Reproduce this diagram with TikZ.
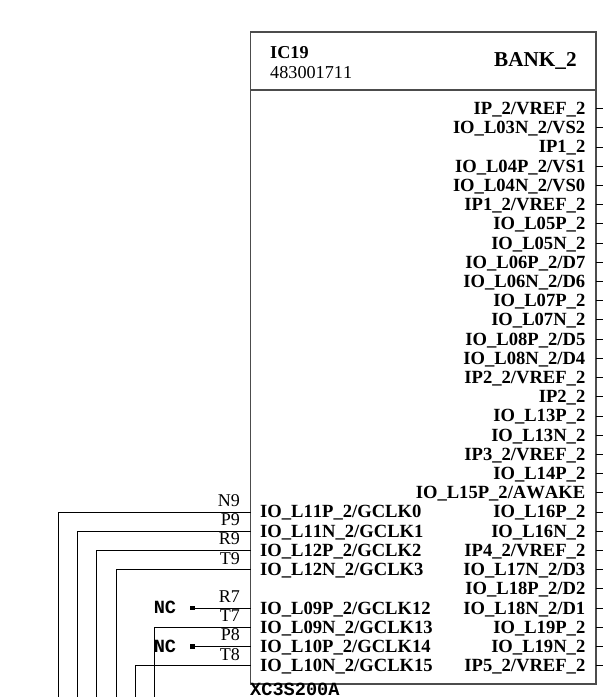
\documentclass[tikz,border=0pt]{standalone}
\usepackage{fontspec}
\setmainfont[Kerning=Off]{Liberation Serif}
\setmonofont{Liberation Mono}
\begin{document}
\begin{tikzpicture}[x=1pt,y=1pt]
  \tikzstyle{BoxStyle}=[draw=black!70,line width=1.1pt]
  \tikzstyle{WireStyle}=[draw=black,line width=0.7pt]
  \tikzstyle{PinName}=[font=\bfseries\fontsize{18.6}{19}\selectfont,inner sep=0pt,anchor=base east]
  \tikzstyle{LeftName}=[font=\bfseries\fontsize{18.6}{19}\selectfont,inner sep=0pt,anchor=base west]
  \tikzstyle{PadName}=[font=\fontsize{18}{19}\selectfont,inner sep=0pt,anchor=base east]
  \tikzstyle{NcName}=[font=\ttfamily\bfseries\fontsize{18.6}{19}\selectfont,inner sep=0pt,anchor=base]
  \tikzstyle{NcDot}=[fill=black,inner sep=0pt,minimum size=4.5pt]
  \useasboundingbox (0,0) rectangle (603,-697);
  % symbol outline
  \coordinate (BoxTL) at (250.5,-32);
  \coordinate (BoxBR) at (596,-684);
  \coordinate (HeadL) at (250.5,-90);
  \coordinate (HeadR) at (596,-90);
  \draw[BoxStyle] (BoxTL) rectangle (BoxBR);
  \draw[BoxStyle] (HeadL) -- (HeadR);
  \node[font=\bfseries\fontsize{18.2}{19}\selectfont,inner sep=0pt,anchor=base west] (RefDes) at (270,-58.3) {IC19};
  \node[font=\fontsize{18.2}{19}\selectfont,inner sep=0pt,anchor=base west] (PartNo) at (270,-78.3) {483001711};
  \node[font=\bfseries\fontsize{21.2}{22}\selectfont,inner sep=0pt,anchor=base west] (Bank) at (494,-66) {BANK\_2};
  \node[font=\ttfamily\bfseries\fontsize{18.6}{19}\selectfont,inner sep=0pt,anchor=base west] (Part) at (250,-695.5) {XC3S200A};
  % right side pins
  \node[PinName] (R01) at (585.5,-114.5) {IP\_2/VREF\_2};
  \node[PinName] (R02) at (585.5,-133.7) {IO\_L03N\_2/VS2};
  \node[PinName] (R03) at (585.5,-152.9) {IP1\_2};
  \node[PinName] (R04) at (585.5,-172.1) {IO\_L04P\_2/VS1};
  \node[PinName] (R05) at (585.5,-191.3) {IO\_L04N\_2/VS0};
  \node[PinName] (R06) at (585.5,-210.5) {IP1\_2/VREF\_2};
  \node[PinName] (R07) at (585.5,-229.8) {IO\_L05P\_2};
  \node[PinName] (R08) at (585.5,-249.0) {IO\_L05N\_2};
  \node[PinName] (R09) at (585.5,-268.2) {IO\_L06P\_2/D7};
  \node[PinName] (R10) at (585.5,-287.4) {IO\_L06N\_2/D6};
  \node[PinName] (R11) at (585.5,-306.6) {IO\_L07P\_2};
  \node[PinName] (R12) at (585.5,-325.8) {IO\_L07N\_2};
  \node[PinName] (R13) at (585.5,-345.0) {IO\_L08P\_2/D5};
  \node[PinName] (R14) at (585.5,-364.2) {IO\_L08N\_2/D4};
  \node[PinName] (R15) at (585.5,-383.4) {IP2\_2/VREF\_2};
  \node[PinName] (R16) at (585.5,-402.7) {IP2\_2};
  \node[PinName] (R17) at (585.5,-421.9) {IO\_L13P\_2};
  \node[PinName] (R18) at (585.5,-441.1) {IO\_L13N\_2};
  \node[PinName] (R19) at (585.5,-460.3) {IP3\_2/VREF\_2};
  \node[PinName] (R20) at (585.5,-479.5) {IO\_L14P\_2};
  \node[PinName] (R21) at (585.5,-498.7) {IO\_L15P\_2/AWAKE};
  \node[PinName] (R22) at (585.5,-517.9) {IO\_L16P\_2};
  \node[PinName] (R23) at (585.5,-537.1) {IO\_L16N\_2};
  \node[PinName] (R24) at (585.5,-556.3) {IP4\_2/VREF\_2};
  \node[PinName] (R25) at (585.5,-575.6) {IO\_L17N\_2/D3};
  \node[PinName] (R26) at (585.5,-594.8) {IO\_L18P\_2/D2};
  \node[PinName] (R27) at (585.5,-614.0) {IO\_L18N\_2/D1};
  \node[PinName] (R28) at (585.5,-633.2) {IO\_L19P\_2};
  \node[PinName] (R29) at (585.5,-652.4) {IO\_L19N\_2};
  \node[PinName] (R30) at (585.5,-671.6) {IP5\_2/VREF\_2};
  % right side stubs
  \draw[WireStyle] (596,-108.5) -- (603,-108.5);
  \draw[WireStyle] (596,-127.7) -- (603,-127.7);
  \draw[WireStyle] (596,-146.9) -- (603,-146.9);
  \draw[WireStyle] (596,-166.1) -- (603,-166.1);
  \draw[WireStyle] (596,-185.3) -- (603,-185.3);
  \draw[WireStyle] (596,-204.5) -- (603,-204.5);
  \draw[WireStyle] (596,-223.8) -- (603,-223.8);
  \draw[WireStyle] (596,-243.0) -- (603,-243.0);
  \draw[WireStyle] (596,-262.2) -- (603,-262.2);
  \draw[WireStyle] (596,-281.4) -- (603,-281.4);
  \draw[WireStyle] (596,-300.6) -- (603,-300.6);
  \draw[WireStyle] (596,-319.8) -- (603,-319.8);
  \draw[WireStyle] (596,-339.0) -- (603,-339.0);
  \draw[WireStyle] (596,-358.2) -- (603,-358.2);
  \draw[WireStyle] (596,-377.4) -- (603,-377.4);
  \draw[WireStyle] (596,-396.7) -- (603,-396.7);
  \draw[WireStyle] (596,-415.9) -- (603,-415.9);
  \draw[WireStyle] (596,-435.1) -- (603,-435.1);
  \draw[WireStyle] (596,-454.3) -- (603,-454.3);
  \draw[WireStyle] (596,-473.5) -- (603,-473.5);
  \draw[WireStyle] (596,-492.7) -- (603,-492.7);
  \draw[WireStyle] (596,-511.9) -- (603,-511.9);
  \draw[WireStyle] (596,-531.1) -- (603,-531.1);
  \draw[WireStyle] (596,-550.3) -- (603,-550.3);
  \draw[WireStyle] (596,-569.6) -- (603,-569.6);
  \draw[WireStyle] (596,-588.8) -- (603,-588.8);
  \draw[WireStyle] (596,-608.0) -- (603,-608.0);
  \draw[WireStyle] (596,-627.2) -- (603,-627.2);
  \draw[WireStyle] (596,-646.4) -- (603,-646.4);
  \draw[WireStyle] (596,-665.6) -- (603,-665.6);
  % left side pins
  \node[LeftName] (L1) at (260,-517.9) {IO\_L11P\_2/GCLK0};
  \node[LeftName] (L2) at (260,-537.1) {IO\_L11N\_2/GCLK1};
  \node[LeftName] (L3) at (260,-556.3) {IO\_L12P\_2/GCLK2};
  \node[LeftName] (L4) at (260,-575.6) {IO\_L12N\_2/GCLK3};
  \node[LeftName] (L5) at (260,-614.0) {IO\_L09P\_2/GCLK12};
  \node[LeftName] (L6) at (260,-633.2) {IO\_L09N\_2/GCLK13};
  \node[LeftName] (L7) at (260,-652.4) {IO\_L10P\_2/GCLK14};
  \node[LeftName] (L8) at (260,-671.6) {IO\_L10N\_2/GCLK15};
  \node[PadName] (PadN9) at (240,-506.4) {N9};
  \node[PadName] (PadP9) at (240,-525.6) {P9};
  \node[PadName] (PadR9) at (240,-544.8) {R9};
  \node[PadName] (PadT9) at (240,-564.1) {T9};
  \node[PadName] (PadR7) at (240,-602.5) {R7};
  \node[PadName] (PadT7) at (240,-621.7) {T7};
  \node[PadName] (PadP8) at (240,-640.9) {P8};
  \node[PadName] (PadT8) at (240,-660.1) {T8};
  \node[NcName] (Nc1) at (165,-613.7) {NC};
  \node[NcName] (Nc2) at (165,-652) {NC};
  \node[NcDot] (Dot1) at (192.7,-608.0) {};
  \node[NcDot] (Dot2) at (192.7,-646.4) {};
  % left side wires
  \draw[WireStyle] (250.5,-511.9) -- (58.3,-511.9) -- (58.3,-697);
  \draw[WireStyle] (250.5,-531.1) -- (77.5,-531.1) -- (77.5,-697);
  \draw[WireStyle] (250.5,-550.3) -- (96.7,-550.3) -- (96.7,-697);
  \draw[WireStyle] (250.5,-569.6) -- (116,-569.6) -- (116,-697);
  \draw[WireStyle] (250.5,-608.0) -- (Dot1);
  \draw[WireStyle] (250.5,-627.2) -- (154.5,-627.2) -- (154.5,-697);
  \draw[WireStyle] (250.5,-646.4) -- (Dot2);
  \draw[WireStyle] (250.5,-665.6) -- (135.3,-665.6) -- (135.3,-697);
\end{tikzpicture}
\end{document}
